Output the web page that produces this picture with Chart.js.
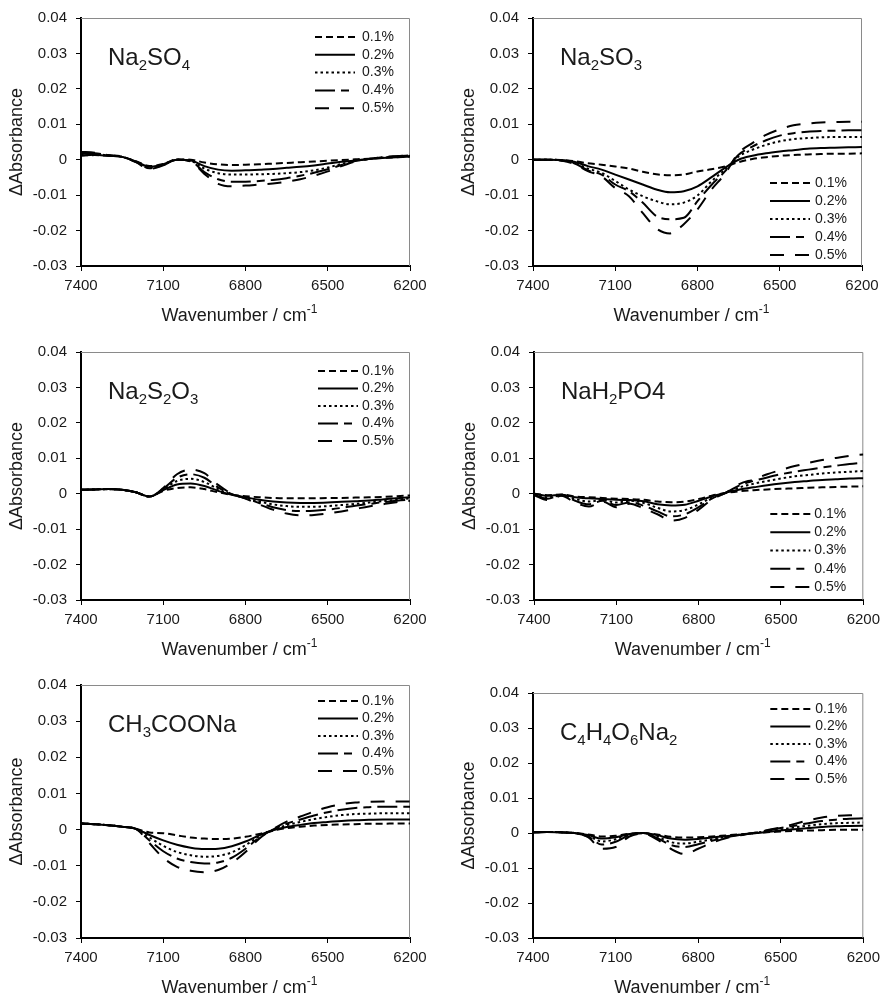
<!DOCTYPE html>
<html>
<head>
<meta charset="utf-8">
<script src="https://cdn.jsdelivr.net/npm/chart.js@4.4.1/dist/chart.umd.min.js"></script>
<style>
html,body{margin:0;padding:0;background:#fff;}
body{position:relative;width:886px;height:998px;overflow:hidden;}
canvas{position:absolute;display:block;}
</style>
</head>
<body>
<canvas id="c1"></canvas>
<canvas id="c2"></canvas>
<canvas id="c3"></canvas>
<canvas id="c4"></canvas>
<canvas id="c5"></canvas>
<canvas id="c6"></canvas>
<script>
// ---------- data ----------
const wavenumbers = [7400,7350,7300,7250,7200,7150,7100,7050,7000,6950,6900,6850,6800,6750,6700,6650,6600,6550,6500,6450,6400,6350,6300,6250,6200];
const concentrations = ['0.1%','0.2%','0.3%','0.4%','0.5%'];
const xTicks = [7400,7100,6800,6500,6200];
const xTickLabels = ['7400','7100','6800','6500','6200'];
const yTicks = [-0.03,-0.02,-0.01,0,0.01,0.02,0.03,0.04];
const yTickLabels = ['-0.03','-0.02','-0.01','0','0.01','0.02','0.03','0.04'];
const xTitle = 'Wavenumber / cm^{-1}';
const yTitle = '\u0394Absorbance';

// Na2SO4
const na2so4_01 = [0.0012,0.0013,0.0011,0.0008,-0.0004,-0.0018,-0.0012,0.0001,0.0000,-0.0008,-0.0013,-0.0015,-0.0014,-0.0013,-0.0011,-0.0009,-0.0007,-0.0005,-0.0003,-0.0001,0.0001,0.0003,0.0005,0.0007,0.0009];
const na2so4_02 = [0.0012,0.0014,0.0011,0.0008,-0.0005,-0.0020,-0.0013,0.0000,-0.0002,-0.0018,-0.0028,-0.0031,-0.0030,-0.0028,-0.0026,-0.0023,-0.0020,-0.0016,-0.0011,-0.0006,-0.0002,0.0002,0.0005,0.0007,0.0009];
const na2so4_03 = [0.0015,0.0016,0.0012,0.0008,-0.0006,-0.0022,-0.0014,0.0000,-0.0003,-0.0025,-0.0038,-0.0042,-0.0042,-0.0041,-0.0040,-0.0038,-0.0035,-0.0030,-0.0022,-0.0012,-0.0003,0.0002,0.0006,0.0009,0.0011];
const na2so4_04 = [0.0018,0.0018,0.0012,0.0008,-0.0006,-0.0024,-0.0015,0.0000,-0.0004,-0.0035,-0.0055,-0.0062,-0.0062,-0.0060,-0.0057,-0.0052,-0.0045,-0.0037,-0.0027,-0.0015,-0.0004,0.0002,0.0007,0.0010,0.0012];
const na2so4_05 = [0.0022,0.0020,0.0013,0.0009,-0.0007,-0.0026,-0.0016,0.0000,-0.0005,-0.0040,-0.0068,-0.0075,-0.0073,-0.0070,-0.0067,-0.0062,-0.0055,-0.0045,-0.0033,-0.0018,-0.0005,0.0002,0.0007,0.0010,0.0013];

// Na2SO3
const na2so3_01 = [0.0000,0.0000,-0.0001,-0.0004,-0.0010,-0.0014,-0.0019,-0.0025,-0.0034,-0.0041,-0.0044,-0.0042,-0.0033,-0.0027,-0.0019,-0.0007,0.0002,0.0007,0.0011,0.0013,0.0015,0.0016,0.0017,0.0017,0.0018];
const na2so3_02 = [0.0000,0.0000,-0.0001,-0.0006,-0.0018,-0.0028,-0.0042,-0.0056,-0.0070,-0.0084,-0.0092,-0.0089,-0.0075,-0.0050,-0.0023,0.0000,0.0011,0.0018,0.0023,0.0027,0.0031,0.0033,0.0034,0.0035,0.0036];
const na2so3_03 = [0.0000,0.0000,-0.0001,-0.0008,-0.0025,-0.0037,-0.0060,-0.0084,-0.0103,-0.0117,-0.0126,-0.0121,-0.0101,-0.0062,-0.0028,0.0009,0.0028,0.0042,0.0052,0.0058,0.0061,0.0063,0.0064,0.0064,0.0064];
const na2so3_04 = [0.0000,0.0000,-0.0002,-0.0010,-0.0030,-0.0042,-0.0070,-0.0089,-0.0121,-0.0159,-0.0168,-0.0164,-0.0117,-0.0072,-0.0033,0.0014,0.0037,0.0055,0.0068,0.0075,0.0079,0.0081,0.0082,0.0083,0.0083];
const na2so3_05 = [0.0000,0.0000,-0.0002,-0.0012,-0.0032,-0.0047,-0.0080,-0.0103,-0.0150,-0.0194,-0.0208,-0.0182,-0.0140,-0.0085,-0.0040,0.0019,0.0047,0.0070,0.0086,0.0097,0.0102,0.0105,0.0106,0.0107,0.0107];

// Na2S2O3
const na2s2o3_01 = [0.0011,0.0012,0.0013,0.0011,0.0004,-0.0008,0.0008,0.0016,0.0018,0.0013,0.0004,-0.0003,-0.0007,-0.0010,-0.0012,-0.0013,-0.0013,-0.0013,-0.0012,-0.0012,-0.0011,-0.0010,-0.0009,-0.0007,-0.0005];
const na2s2o3_02 = [0.0011,0.0012,0.0013,0.0011,0.0004,-0.0008,0.0010,0.0026,0.0029,0.0022,0.0008,-0.0003,-0.0010,-0.0017,-0.0022,-0.0025,-0.0026,-0.0026,-0.0025,-0.0023,-0.0021,-0.0019,-0.0016,-0.0013,-0.0010];
const na2s2o3_03 = [0.0011,0.0012,0.0013,0.0011,0.0004,-0.0008,0.0012,0.0036,0.0042,0.0033,0.0013,-0.0002,-0.0012,-0.0022,-0.0030,-0.0035,-0.0037,-0.0037,-0.0035,-0.0032,-0.0029,-0.0025,-0.0021,-0.0017,-0.0013];
const na2s2o3_04 = [0.0011,0.0012,0.0013,0.0011,0.0004,-0.0008,0.0014,0.0045,0.0055,0.0045,0.0018,-0.0001,-0.0013,-0.0026,-0.0038,-0.0046,-0.0049,-0.0048,-0.0045,-0.0040,-0.0034,-0.0029,-0.0024,-0.0020,-0.0016];
const na2s2o3_05 = [0.0011,0.0012,0.0013,0.0011,0.0004,-0.0008,0.0016,0.0055,0.0068,0.0058,0.0025,0.0000,-0.0014,-0.0030,-0.0045,-0.0056,-0.0061,-0.0060,-0.0056,-0.0050,-0.0043,-0.0036,-0.0030,-0.0024,-0.0020];

// NaH2PO4
const nah2po4_01 = [0.0000,-0.0004,-0.0002,-0.0008,-0.0010,-0.0012,-0.0014,-0.0015,-0.0017,-0.0022,-0.0024,-0.0022,-0.0015,-0.0005,0.0002,0.0007,0.0010,0.0012,0.0014,0.0015,0.0017,0.0018,0.0019,0.0020,0.0021];
const nah2po4_02 = [0.0000,-0.0006,-0.0003,-0.0010,-0.0013,-0.0015,-0.0017,-0.0018,-0.0021,-0.0030,-0.0033,-0.0031,-0.0020,-0.0007,0.0003,0.0012,0.0018,0.0024,0.0029,0.0033,0.0036,0.0039,0.0041,0.0043,0.0044];
const nah2po4_03 = [-0.0002,-0.0010,-0.0005,-0.0015,-0.0022,-0.0018,-0.0025,-0.0020,-0.0026,-0.0040,-0.0050,-0.0046,-0.0030,-0.0010,0.0003,0.0018,0.0028,0.0036,0.0043,0.0049,0.0053,0.0057,0.0060,0.0062,0.0064];
const nah2po4_04 = [-0.0003,-0.0014,-0.0004,-0.0020,-0.0030,-0.0020,-0.0032,-0.0024,-0.0034,-0.0050,-0.0064,-0.0058,-0.0038,-0.0013,0.0003,0.0024,0.0036,0.0046,0.0055,0.0062,0.0068,0.0074,0.0079,0.0084,0.0088];
const nah2po4_05 = [-0.0004,-0.0018,-0.0006,-0.0025,-0.0036,-0.0022,-0.0038,-0.0028,-0.0042,-0.0058,-0.0076,-0.0068,-0.0045,-0.0015,0.0003,0.0028,0.0040,0.0055,0.0067,0.0078,0.0087,0.0095,0.0101,0.0107,0.0111];

// CH3COONa
const ch3coona_01 = [0.0017,0.0015,0.0012,0.0008,0.0002,-0.0008,-0.0010,-0.0016,-0.0022,-0.0025,-0.0026,-0.0025,-0.0020,-0.0012,-0.0003,0.0004,0.0008,0.0011,0.0013,0.0014,0.0015,0.0016,0.0016,0.0017,0.0017];
const ch3coona_02 = [0.0017,0.0015,0.0012,0.0008,0.0002,-0.0015,-0.0030,-0.0042,-0.0050,-0.0054,-0.0053,-0.0046,-0.0033,-0.0016,-0.0002,0.0007,0.0013,0.0018,0.0021,0.0024,0.0026,0.0027,0.0028,0.0028,0.0028];
const ch3coona_03 = [0.0017,0.0015,0.0012,0.0008,0.0002,-0.0022,-0.0045,-0.0062,-0.0071,-0.0075,-0.0073,-0.0063,-0.0043,-0.0019,-0.0001,0.0012,0.0021,0.0029,0.0035,0.0040,0.0043,0.0044,0.0045,0.0045,0.0045];
const ch3coona_04 = [0.0017,0.0015,0.0012,0.0008,0.0002,-0.0030,-0.0060,-0.0080,-0.0090,-0.0094,-0.0091,-0.0078,-0.0053,-0.0022,0.0000,0.0016,0.0028,0.0039,0.0048,0.0055,0.0060,0.0062,0.0063,0.0063,0.0063];
const ch3coona_05 = [0.0017,0.0015,0.0012,0.0008,0.0002,-0.0038,-0.0078,-0.0103,-0.0114,-0.0118,-0.0112,-0.0092,-0.0062,-0.0025,0.0001,0.0022,0.0036,0.0050,0.0062,0.0070,0.0075,0.0077,0.0078,0.0078,0.0078];

// C4H4O6Na2
const c4h4o6na2_01 = [0.0002,0.0003,0.0002,0.0000,-0.0004,-0.0010,-0.0008,-0.0002,0.0000,-0.0004,-0.0011,-0.0013,-0.0012,-0.0010,-0.0007,-0.0004,-0.0001,0.0002,0.0004,0.0006,0.0007,0.0008,0.0009,0.0009,0.0009];
const c4h4o6na2_02 = [0.0002,0.0003,0.0002,0.0000,-0.0006,-0.0016,-0.0012,-0.0003,0.0000,-0.0006,-0.0016,-0.0019,-0.0017,-0.0013,-0.0009,-0.0005,-0.0001,0.0003,0.0007,0.0011,0.0014,0.0017,0.0019,0.0020,0.0021];
const c4h4o6na2_03 = [0.0002,0.0003,0.0002,0.0000,-0.0008,-0.0024,-0.0018,-0.0004,0.0000,-0.0010,-0.0026,-0.0030,-0.0025,-0.0018,-0.0011,-0.0005,0.0000,0.0005,0.0010,0.0016,0.0021,0.0025,0.0028,0.0029,0.0030];
const c4h4o6na2_04 = [0.0002,0.0003,0.0002,0.0000,-0.0010,-0.0033,-0.0025,-0.0006,-0.0001,-0.0014,-0.0034,-0.0040,-0.0032,-0.0022,-0.0013,-0.0006,0.0000,0.0007,0.0014,0.0021,0.0028,0.0034,0.0038,0.0041,0.0042];
const c4h4o6na2_05 = [0.0002,0.0003,0.0002,0.0000,-0.0012,-0.0045,-0.0040,-0.0010,-0.0002,-0.0018,-0.0045,-0.0060,-0.0045,-0.0028,-0.0015,-0.0007,0.0000,0.0008,0.0016,0.0026,0.0036,0.0044,0.0049,0.0051,0.0051];

// ---------- styling / layout ----------
const FONT = '"Liberation Sans", Arial, Helvetica, sans-serif';
const TEXT = '#1a1a1a';
const lineDashes = [[7,4],[],[2.5,3],[20,6,8,6],[14,11]];

const panels = [
  {id:'c1', label:'Na_{2}SO_{4}', series:[na2so4_01,na2so4_02,na2so4_03,na2so4_04,na2so4_05],
   canvas:[0,0,443,330], plot:[81,13,410,266], legend:{anchor:'top', dy:19, lineOff:95, textOff:48, step:17.8}},
  {id:'c2', label:'Na_{2}SO_{3}', series:[na2so3_01,na2so3_02,na2so3_03,na2so3_04,na2so3_05],
   canvas:[443,0,443,330], plot:[533,15,862,266], legend:{anchor:'bottom', dy:11, lineOff:92, textOff:47, step:18}},
  {id:'c3', label:'Na_{2}S_{2}O_{3}', series:[na2s2o3_01,na2s2o3_02,na2s2o3_03,na2s2o3_04,na2s2o3_05],
   canvas:[0,330,443,330], plot:[81,352,410,600], legend:{anchor:'top', dy:19, lineOff:92, textOff:48, step:17.5}},
  {id:'c4', label:'NaH_{2}PO4', series:[nah2po4_01,nah2po4_02,nah2po4_03,nah2po4_04,nah2po4_05],
   canvas:[443,330,443,330], plot:[534,352,864,600], legend:{anchor:'bottom', dy:13, lineOff:93, textOff:49, step:18.25}},
  {id:'c5', label:'CH_{3}COONa', series:[ch3coona_01,ch3coona_02,ch3coona_03,ch3coona_04,ch3coona_05],
   canvas:[0,660,443,338], plot:[81,685,410,938], legend:{anchor:'top', dy:16, lineOff:92, textOff:48, step:17.5}},
  {id:'c6', label:'C_{4}H_{4}O_{6}Na_{2}', series:[c4h4o6na2_01,c4h4o6na2_02,c4h4o6na2_03,c4h4o6na2_04,c4h4o6na2_05],
   canvas:[443,660,443,338], plot:[533,693,865,938], legend:{anchor:'top', dy:16, lineOff:93, textOff:48, step:17.5}}
];

function parseRich(text) {
  const segs = [];
  const re = /(_|\^)\{([^}]*)\}/g;
  let last = 0, m;
  while ((m = re.exec(text)) !== null) {
    if (m.index > last) segs.push({t: text.slice(last, m.index), k: 'n'});
    segs.push({t: m[2], k: m[1] === '_' ? 'sub' : 'sup'});
    last = re.lastIndex;
  }
  if (last < text.length) segs.push({t: text.slice(last), k: 'n'});
  return segs;
}

function drawRich(ctx, text, x, y, size, align) {
  const segs = parseRich(text);
  const small = Math.round(size * 0.64);
  let total = 0;
  segs.forEach(s => {
    ctx.font = (s.k === 'n' ? size : small) + 'px ' + FONT;
    s.w = ctx.measureText(s.t).width;
    total += s.w;
  });
  let cx = align === 'center' ? x - total / 2 : x;
  ctx.textAlign = 'left';
  ctx.textBaseline = 'alphabetic';
  ctx.fillStyle = TEXT;
  segs.forEach(s => {
    ctx.font = (s.k === 'n' ? size : small) + 'px ' + FONT;
    let dy = 0;
    if (s.k === 'sub') dy = size * 0.2;
    if (s.k === 'sup') dy = -size * 0.4;
    ctx.fillText(s.t, cx, y + dy);
    cx += s.w;
  });
}

const decoPlugin = {
  id: 'deco',
  beforeDatasetsDraw(chart, args, opts) {
    const a = chart.chartArea, ctx = chart.ctx;
    ctx.save();
    ctx.strokeStyle = '#8a8a8a';
    ctx.lineWidth = 1;
    ctx.setLineDash([]);
    ctx.beginPath();
    ctx.moveTo(a.left, a.top + 0.5);
    ctx.lineTo(a.right - 0.5, a.top + 0.5);
    ctx.lineTo(a.right - 0.5, a.bottom);
    ctx.stroke();
    ctx.restore();
  },
  afterDraw(chart, args, opts) {
    const p = panels[opts.idx];
    const a = chart.chartArea, ctx = chart.ctx;
    const L = p.legend;
    ctx.save();
    for (let i = 0; i < concentrations.length; i++) {
      const y = L.anchor === 'top' ? a.top + L.dy + i * L.step
                                   : a.bottom - L.dy - (concentrations.length - 1 - i) * L.step;
      const x0 = a.right - L.lineOff;
      ctx.setLineDash(lineDashes[i]);
      ctx.lineWidth = 2;
      ctx.strokeStyle = '#000';
      ctx.lineCap = 'butt';
      ctx.beginPath();
      ctx.moveTo(x0, y);
      ctx.lineTo(x0 + 40, y);
      ctx.stroke();
      ctx.setLineDash([]);
      ctx.fillStyle = TEXT;
      ctx.font = '14px ' + FONT;
      ctx.textAlign = 'left';
      ctx.textBaseline = 'middle';
      ctx.fillText(concentrations[i], a.right - L.textOff, y);
    }
    drawRich(ctx, p.label, a.left + 27, a.top + 47, 24, 'left');
    drawRich(ctx, xTitle, (a.left + a.right) / 2 - 6, a.bottom + 54.5, 18, 'center');
    ctx.restore();
  }
};

const YW = 75, XH = 58;

panels.forEach((p, k) => {
  const cv = document.getElementById(p.id);
  const [cx, cy, cw, ch] = p.canvas;
  const [pl, pt, pr, pb] = p.plot;
  cv.width = cw; cv.height = ch;
  cv.style.left = cx + 'px'; cv.style.top = cy + 'px';
  cv.style.width = cw + 'px'; cv.style.height = ch + 'px';
  const pad = {left: pl - cx - YW, top: pt - cy, right: cx + cw - pr, bottom: cy + ch - pb - XH};
  const gridOpts = {drawOnChartArea: false, drawTicks: true, tickLength: 5, tickColor: '#000', tickWidth: 1, lineWidth: 1, color: '#000'};
  const borderOpts = {display: true, color: '#000', width: 2};
  new Chart(cv, {
    type: 'line',
    data: {
      datasets: p.series.map((s, i) => ({
        label: concentrations[i],
        data: wavenumbers.map((w, j) => ({x: w, y: s[j]})),
        borderColor: '#000',
        borderWidth: 2,
        borderDash: lineDashes[i],
        pointRadius: 0,
        fill: false,
        cubicInterpolationMode: 'monotone'
      }))
    },
    options: {
      responsive: false,
      animation: false,
      devicePixelRatio: 1,
      layout: {padding: pad},
      plugins: {legend: {display: false}, tooltip: {enabled: false}, deco: {idx: k}},
      scales: {
        x: {
          type: 'linear', reverse: true, min: 6200, max: 7400,
          afterBuildTicks: s => { s.ticks = xTicks.map(v => ({value: v})); },
          afterFit: s => { s.height = XH; },
          grid: gridOpts, border: borderOpts,
          ticks: {font: {size: 15, family: FONT}, color: TEXT, padding: 6, maxRotation: 0, autoSkip: false,
                  callback: v => xTickLabels[xTicks.indexOf(v)]}
        },
        y: {
          type: 'linear', min: -0.03, max: 0.04,
          afterBuildTicks: s => { s.ticks = yTicks.map(v => ({value: v})); },
          afterFit: s => { s.width = YW; },
          grid: gridOpts, border: borderOpts,
          ticks: {font: {size: 15, family: FONT}, color: TEXT, padding: 9,
                  callback: v => yTickLabels[yTicks.indexOf(v)]},
          title: {display: true, text: yTitle, font: {size: 18, family: FONT}, color: TEXT, padding: 0}
        }
      }
    },
    plugins: [decoPlugin]
  });
});
</script>
</body>
</html>
